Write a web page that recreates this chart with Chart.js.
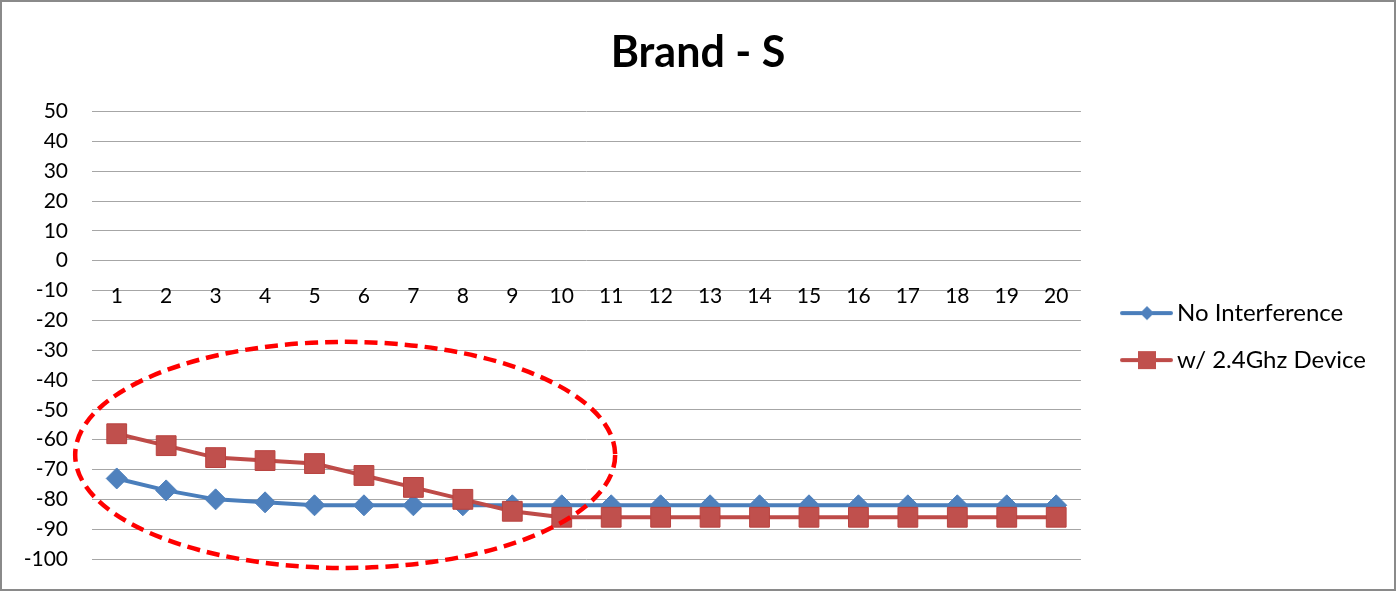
<!DOCTYPE html>
<html>
<head>
<meta charset="utf-8">
<script src="https://cdn.jsdelivr.net/npm/chart.js@4"></script>
<style>
  html, body { margin: 0; padding: 0; background: #fff; }
  #wrap { width: 1396px; height: 591px; box-sizing: border-box; border: 2px solid #8a8a8a; background: #fff; }
  canvas { display: block; }
</style>
</head>
<body>
<div id="wrap"><canvas id="chart" width="1392" height="587"></canvas></div>
<script>
/* Brand - S : signal per sample, with and without a 2.4Ghz device nearby */

const categories = ['1', '2', '3', '4', '5', '6', '7', '8', '9', '10',
  '11', '12', '13', '14', '15', '16', '17', '18', '19', '20'];
const noInterference = [-73, -77, -80, -81, -82, -82, -82, -82, -82, -82,
  -82, -82, -82, -82, -82, -82, -82, -82, -82, -82];
const withDevice = [-58, -62, -66, -67, -68, -72, -76, -80, -84, -86,
  -86, -86, -86, -86, -86, -86, -86, -86, -86, -86];
const yTicks = { min: -100, max: 50, step: 10 };

// highlight ring, in data units (category index / value)
const ring = { cx: 4.62, cy: -65.1, rx: 5.46, ry: 37.9 };

const BLUE = '#4A7EBB';
const BLUE_MARK = '#4F81BD';
const RED = '#BE4B48';
const RED_MARK = '#C0504D';
const GRID = '#A6A6A6';
const FONT = 'Lato, Carlito, Calibri, sans-serif';

// legend swatch: line with marker, drawn at the right end of a wider transparent canvas
function legendIcon(color, markColor, shape) {
  const c = document.createElement('canvas');
  c.width = 77; c.height = 24;
  const g = c.getContext('2d');
  const o = 24;
  g.strokeStyle = color; g.lineWidth = 4; g.lineCap = 'round';
  g.beginPath(); g.moveTo(o + 2, 12); g.lineTo(o + 51, 12); g.stroke();
  g.fillStyle = markColor;
  if (shape === 'diamond') {
    g.beginPath(); g.moveTo(o + 27, 5); g.lineTo(o + 34, 12); g.lineTo(o + 27, 19); g.lineTo(o + 20, 12); g.closePath(); g.fill();
  } else {
    g.fillRect(o + 18, 3, 18, 18);
  }
  return c;
}

const icons = [legendIcon(BLUE, BLUE_MARK, 'diamond'), legendIcon(RED, RED_MARK, 'square')];

const ringPlugin = {
  id: 'ring',
  afterDatasetsDraw(chart) {
    const { ctx, scales: { x, y } } = chart;
    const step = x.getPixelForValue(1) - x.getPixelForValue(0);
    const cx = x.getPixelForValue(0) + ring.cx * step;
    const cy = y.getPixelForValue(ring.cy);
    const rx = ring.rx * step;
    const ry = Math.abs(y.getPixelForValue(ring.cy + ring.ry) - cy);
    ctx.save();
    ctx.strokeStyle = '#FF0000';
    ctx.lineWidth = 4.5;
    ctx.setLineDash([13, 7]);
    ctx.beginPath();
    ctx.ellipse(cx, cy, rx, ry, 0, 0, Math.PI * 2);
    ctx.stroke();
    ctx.restore();
  },
};

new Chart(document.getElementById('chart'), {
  type: 'line',
  data: {
    labels: categories,
    datasets: [
      {
        label: 'No Interference', data: noInterference, order: 1,
        borderColor: BLUE, borderWidth: 4, backgroundColor: BLUE_MARK,
        pointStyle: 'rectRot', pointRadius: 10.5, pointBorderColor: BLUE_MARK, pointBorderWidth: 1,
        tension: 0,
      },
      {
        label: 'w/ 2.4Ghz Device', data: withDevice, order: 0,
        borderColor: RED, borderWidth: 4, backgroundColor: RED_MARK,
        pointStyle: 'rect', pointRadius: 14, pointBorderColor: '#B9423F', pointBorderWidth: 1,
        tension: 0,
      },
    ],
  },
  options: {
    responsive: false,
    animation: false,
    layout: { padding: { left: 18, right: 18, top: 0, bottom: 30 } },
    plugins: {
      title: {
        display: true, text: 'Brand - S', color: '#000',
        font: { family: FONT, size: 43, weight: 'bold' },
        padding: { top: 25, bottom: 33 },
      },
      legend: {
        position: 'right',
        title: { display: true, text: '', font: { size: 1 }, padding: { top: 0, bottom: 111 } },
        labels: {
          color: '#000',
          font: { family: FONT, size: 24 },
          usePointStyle: true,
          pointStyleWidth: 61,
          padding: 23,
          generateLabels: (chart) => chart.data.datasets.map((ds, i) => ({
            text: ds.label, fillStyle: ds.backgroundColor, strokeStyle: ds.borderColor,
            lineWidth: 0, pointStyle: icons[i], datasetIndex: i, fontColor: '#000',
          })),
        },
      },
      tooltip: { enabled: false },
    },
    scales: {
      x: {
        type: 'category',
        position: { y: 0 },
        offset: true,
        grid: { display: false, drawTicks: false },
        border: { display: false },
        ticks: { color: '#000', font: { family: FONT, size: 21 }, padding: 23, maxRotation: 0, autoSkip: false },
      },
      y: {
        min: yTicks.min, max: yTicks.max,
        grid: { color: GRID, lineWidth: 1, drawTicks: false },
        border: { display: false },
        ticks: { stepSize: yTicks.step, color: '#000', font: { family: FONT, size: 21 }, padding: 24 },
        afterFit: (s) => { s.width = 72; s.paddingTop = 0; s.paddingBottom = 0; },
      },
    },
  },
  plugins: [ringPlugin],
});
</script>
</body>
</html>
